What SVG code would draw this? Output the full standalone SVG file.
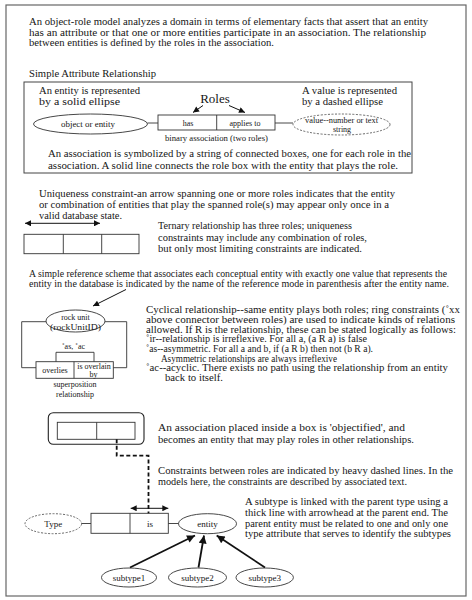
<svg xmlns="http://www.w3.org/2000/svg" width="472" height="600" viewBox="0 0 472 600" font-family="'Liberation Serif','DejaVu Serif','Times New Roman',serif">
<defs>
<style>
.t{font-family:"Liberation Serif","DejaVu Serif","Times New Roman",serif;font-size:10.5px;fill:#161616}
.sm{font-size:8px}
.md{font-size:9px}
.xs{font-size:9.5px}
.c{text-anchor:middle}
.sh{fill:#fff;stroke:#333;stroke-width:0.9}
.dsh{fill:#fff;stroke:#444;stroke-width:0.8;stroke-dasharray:2 1.5}
.ln{fill:none;stroke:#333;stroke-width:0.9}
.ar{fill:none;stroke:#111;stroke-width:1}
.thick{fill:none;stroke:#111;stroke-width:1.8}
.heavy{fill:none;stroke:#111;stroke-width:1.8;stroke-dasharray:4 2.5}
</style>
<marker id="ah" viewBox="0 0 10 10" refX="10" refY="5" markerWidth="7" markerHeight="6" markerUnits="userSpaceOnUse" orient="auto-start-reverse"><path d="M0,0 L10,5 L0,10 z" fill="#111"/></marker>
<marker id="ahb" viewBox="0 0 10 10" refX="10" refY="5" markerWidth="10" markerHeight="8" markerUnits="userSpaceOnUse" orient="auto"><path d="M0,0 L10,5 L0,10 z" fill="#111"/></marker>
</defs>
<rect width="472" height="600" fill="#fff"/>
<rect x="6" y="5" width="460" height="591" fill="none" stroke="#666" stroke-width="1.2"/>

<g id="intro-text">
<text class="t" x="29" y="24.5" textLength="399" lengthAdjust="spacingAndGlyphs">An object-role model analyzes a domain in terms of elementary facts that assert that an entity</text>
<text class="t" x="29" y="35.5" textLength="397" lengthAdjust="spacingAndGlyphs">has an attribute or that one or more entities participate in an association.  The relationship</text>
<text class="t" x="29" y="46" textLength="245" lengthAdjust="spacingAndGlyphs">between entities is defined by the roles in the association.</text>
<text class="t" x="29" y="77" textLength="127" lengthAdjust="spacingAndGlyphs">Simple Attribute Relationship</text>
</g>

<g id="simple-attribute-panel">
<rect x="24" y="82" width="388" height="91" fill="none" stroke="#444" stroke-width="1"/>
<text class="t" x="39" y="94" textLength="101" lengthAdjust="spacingAndGlyphs">An entity is represented</text>
<text class="t" x="39" y="104.7" textLength="81" lengthAdjust="spacingAndGlyphs">by a solid ellipse</text>
<text class="t c" x="215" y="103" style="font-size:13px">Roles</text>
<text class="t" x="302" y="94" textLength="95" lengthAdjust="spacingAndGlyphs">A value is represented</text>
<text class="t" x="302" y="104.7" textLength="81" lengthAdjust="spacingAndGlyphs">by a dashed ellipse</text>
<text class="t c sm" x="216.5" y="141" textLength="103" lengthAdjust="spacingAndGlyphs">binary association (two roles)</text>
<text class="t" x="48" y="157.3" textLength="363" lengthAdjust="spacingAndGlyphs">An association is symbolized by a string of connected boxes, one for each role in the</text>
<text class="t" x="48" y="168.5" textLength="350" lengthAdjust="spacingAndGlyphs">association. A solid line connects the role box with the entity that plays the role.</text>
</g>

<g id="object-entity">
<ellipse class="sh" cx="90.5" cy="124" rx="57" ry="10"/>
<text class="t c sm" x="88" y="127" textLength="54" lengthAdjust="spacingAndGlyphs">object or  entity</text>
</g>
<g id="binary-association">
<rect class="sh" x="158" y="115" width="117" height="15"/>
<line class="ln" x1="216.7" y1="115" x2="216.7" y2="130"/>
<text class="t c sm" x="188" y="125.5">has</text>
<text class="t c sm" x="245" y="125.5">applies to</text>
</g>
<g id="value-node">
<ellipse class="dsh" cx="341.5" cy="124.5" rx="48.5" ry="10.5"/>
<text class="t c sm" x="341.5" y="122.5" textLength="73" lengthAdjust="spacingAndGlyphs">value--number or text</text>
<text class="t c sm" x="342" y="131.5">string</text>
</g>

<g id="uniqueness-text">
<text class="t" x="39" y="197" textLength="356" lengthAdjust="spacingAndGlyphs">Uniqueness constraint-an arrow spanning one or more roles indicates that the entity</text>
<text class="t" x="39" y="208" textLength="350" lengthAdjust="spacingAndGlyphs">or combination of entities that play the spanned role(s) may appear only once in a</text>
<text class="t" x="39" y="218.7" textLength="83" lengthAdjust="spacingAndGlyphs">valid database state.</text>
<text class="t" x="158" y="229.3" textLength="194" lengthAdjust="spacingAndGlyphs">Ternary relationship has three roles; uniqueness</text>
<text class="t" x="158" y="240.7" textLength="209" lengthAdjust="spacingAndGlyphs">constraints may include any combination of roles,</text>
<text class="t" x="158" y="251.7" textLength="204" lengthAdjust="spacingAndGlyphs">but only most limiting constraints are indicated.</text>
</g>
<g id="ternary-association">
<rect class="sh" x="24" y="234.3" width="115" height="19.4"/>
<line class="ln" x1="63.3" y1="234.3" x2="63.3" y2="253.7"/>
<line class="ln" x1="101.7" y1="234.3" x2="101.7" y2="253.7"/>
</g>

<g id="reference-text">
<text class="t xs" x="29" y="277" textLength="418" lengthAdjust="spacingAndGlyphs">A simple reference scheme that associates each conceptual entity with exactly one value that represents the</text>
<text class="t xs" x="29" y="286.5" textLength="420" lengthAdjust="spacingAndGlyphs">entity in the database is indicated by the name of the reference mode in parenthesis after the entity name.</text>
</g>
<g id="cyclical-text">
<text class="t" x="146" y="313" textLength="314" lengthAdjust="spacingAndGlyphs">Cyclical relationship--same entity plays both roles; ring constraints (˚xx</text>
<text class="t" x="146" y="323" textLength="309" lengthAdjust="spacingAndGlyphs">above connector between roles) are used to indicate kinds of relations</text>
<text class="t" x="146" y="332.7" textLength="310" lengthAdjust="spacingAndGlyphs">allowed. If R is the relationship, these can be stated logically as follows:</text>
<text class="t" x="146" y="342.4" textLength="221" lengthAdjust="spacingAndGlyphs">˚ir--relationship is irreflexive.  For all a, (a R a) is false</text>
<text class="t" x="146" y="352" textLength="227" lengthAdjust="spacingAndGlyphs">˚as--asymmetric. For all a and b, if (a R b) then not (b R a).</text>
<text class="t" x="161" y="361.7" textLength="176" lengthAdjust="spacingAndGlyphs">Asymmetric relationships are always irreflexive</text>
<text class="t" x="146" y="371.4" textLength="302" lengthAdjust="spacingAndGlyphs">˚ac--acyclic. There exists no path using the relationship from an entity</text>
<text class="t" x="165" y="381" textLength="58" lengthAdjust="spacingAndGlyphs">back to itself.</text>
</g>
<g id="rock-unit">
<ellipse class="sh" cx="75.5" cy="321" rx="29.5" ry="11"/>
<text class="t c sm" x="75.5" y="320">rock unit</text>
<text class="t c sm" x="75.5" y="329.5" textLength="51" lengthAdjust="spacingAndGlyphs">(rockUnitID)</text>
</g>
<g id="superposition-relationship">
<rect class="sh" x="36" y="361.7" width="77.3" height="16.6"/>
<line class="ln" x1="74" y1="361.7" x2="74" y2="378.3"/>
<text class="t c sm" x="55" y="372.5">overlies</text>
<text class="t c sm" x="94" y="368.5">is overlain</text>
<text class="t c sm" x="93.5" y="377.3">by</text>
<text class="t c sm" x="73.5" y="349">˚as, ˚ac</text>
<text class="t c sm" x="75" y="387">superposition</text>
<text class="t c sm" x="75" y="396.5">relationship</text>
</g>

<g id="objectified-association">
<rect x="48.3" y="412.7" width="95.7" height="31.6" rx="5" fill="#fff" stroke="#222" stroke-width="1.1"/>
<rect class="sh" x="57.3" y="422.3" width="77.7" height="17"/>
<line class="ln" x1="96.7" y1="422.3" x2="96.7" y2="439.3"/>
</g>
<g id="objectified-text">
<text class="t" x="158" y="430.5" textLength="247" lengthAdjust="spacingAndGlyphs">An association placed inside a box is 'objectified', and</text>
<text class="t" x="158" y="442.5" textLength="256" lengthAdjust="spacingAndGlyphs">becomes an entity that may play roles in other relationships.</text>
<text class="t" x="158" y="474" textLength="295" lengthAdjust="spacingAndGlyphs">Constraints between roles are indicated by heavy dashed lines. In the</text>
<text class="t" x="158" y="485" textLength="249" lengthAdjust="spacingAndGlyphs">models here, the constraints are described by associated text.</text>
<text class="t" x="245" y="505" textLength="203" lengthAdjust="spacingAndGlyphs">A subtype is linked with the parent type using a</text>
<text class="t" x="245" y="516" textLength="203" lengthAdjust="spacingAndGlyphs">thick line with arrowhead at the parent end. The</text>
<text class="t" x="245" y="526.7" textLength="203" lengthAdjust="spacingAndGlyphs">parent entity must be related to one and only one</text>
<text class="t" x="245" y="537" textLength="206" lengthAdjust="spacingAndGlyphs">type attribute that serves to identify the subtypes</text>
</g>
<g id="type-node">
<ellipse class="dsh" cx="53.3" cy="523.7" rx="28.3" ry="10"/>
<text class="t c md" x="53.3" y="526.7">Type</text>
</g>
<g id="is-association">
<rect class="sh" x="91" y="513.3" width="77.3" height="20"/>
<line class="ln" x1="130" y1="513.3" x2="130" y2="533.3"/>
<text class="t c md" x="150" y="526.5">is</text>
</g>
<g id="entity-node">
<ellipse class="sh" cx="207.5" cy="523.7" rx="29" ry="10"/>
<text class="t c md" x="207.5" y="526.7">entity</text>
</g>
<g id="subtype1">
<ellipse class="sh" cx="129" cy="577.5" rx="27.5" ry="9.5"/>
<text class="t c md" x="129" y="580.5">subtype1</text>
</g>
<g id="subtype2">
<ellipse class="sh" cx="197.5" cy="577.5" rx="29" ry="9.5"/>
<text class="t c md" x="197.5" y="580.5">subtype2</text>
</g>
<g id="subtype3">
<ellipse class="sh" cx="264.7" cy="577.5" rx="28.7" ry="9.5"/>
<text class="t c md" x="264.7" y="580.5">subtype3</text>
</g>

<g id="connectors">
<line class="ln" x1="147.5" y1="123" x2="158" y2="123"/>
<line class="ln" x1="275" y1="123" x2="293" y2="123"/>
<line class="ar" x1="203" y1="105.5" x2="193" y2="112.5" marker-end="url(#ah)"/>
<line class="ar" x1="229" y1="105.5" x2="245" y2="112.5" marker-end="url(#ah)"/>
<line class="ar" x1="25" y1="223.3" x2="100" y2="223.3" marker-start="url(#ah)" marker-end="url(#ah)"/>
<line class="ar" x1="126" y1="289.5" x2="93" y2="306" marker-end="url(#ah)"/>
<polyline class="ln" points="46,321.7 21.7,321.7 21.7,367.7 36,367.7"/>
<polyline class="ln" points="105,321.7 126.7,321.7 126.7,367.7 113.3,367.7"/>
<polyline class="ln" points="56,361.7 56,352.3 94,352.3 94,361.7"/>
<polyline class="heavy" points="116.7,439.3 116.7,455.7 148.5,455.7 148.5,513.3"/>
<line class="ar" x1="130.7" y1="508.3" x2="168.3" y2="508.3" marker-start="url(#ah)" marker-end="url(#ah)"/>
<line class="ln" x1="81.6" y1="523.5" x2="91" y2="523.5"/>
<line class="ln" x1="168.3" y1="523.5" x2="178.5" y2="523.5"/>
<line class="thick" x1="130" y1="567.5" x2="195" y2="535.5" marker-end="url(#ahb)"/>
<line class="thick" x1="198.5" y1="567.5" x2="204" y2="535.5" marker-end="url(#ahb)"/>
<line class="thick" x1="265" y1="567.5" x2="216.7" y2="535.5" marker-end="url(#ahb)"/>
</g>
</svg>
